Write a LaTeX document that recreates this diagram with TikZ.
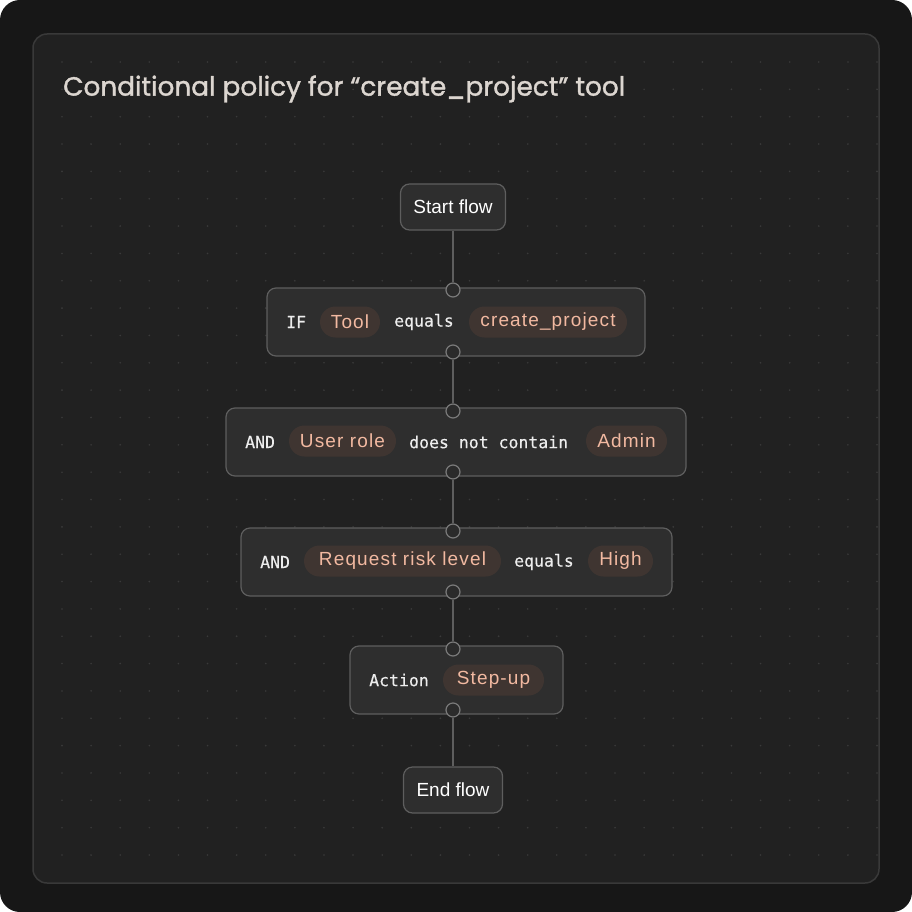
\documentclass[tikz,border=0pt]{standalone}
\usepackage{fontspec}
\setmainfont{Liberation Sans}
\newfontfamily\titlefont{Poppins}[FakeBold=1.4]
\newfontfamily\monofont{DejaVu Sans Mono}[FakeBold=0.3]
\newfontfamily\pillfont{Liberation Sans}[LetterSpace=6]
\definecolor{outerbg}{HTML}{171717}
\definecolor{panelbg}{HTML}{212121}
\definecolor{panelline}{HTML}{393939}
\definecolor{dotc}{HTML}{3A3A3A}
\definecolor{boxbg}{HTML}{2E2E2E}
\definecolor{boxline}{HTML}{5E5E5E}
\definecolor{pillbg}{HTML}{3F3531}
\definecolor{pilltext}{HTML}{F2B9A1}
\definecolor{monotext}{HTML}{EDEDED}
\definecolor{titletext}{HTML}{DCD6D0}
\definecolor{wire}{HTML}{5E5E5E}
\definecolor{portline}{HTML}{7A7A7A}
\definecolor{portbg}{HTML}{2B2B2B}
\tikzset{
  card/.style={draw=boxline, line width=1.2pt, fill=boxbg, rounded corners=9pt, inner sep=0pt},
  endcard/.style={card, text=white, font=\fontsize{19}{22}\selectfont},
  pill/.style={fill=pillbg, rounded corners=15.5pt, minimum height=31pt, inner sep=0pt, text=pilltext, font=\pillfont\fontsize{19}{22}\selectfont},
  mono/.style={anchor=west, inner sep=0pt, text=monotext, font=\monofont\fontsize{16.5}{20}\selectfont},
  port/.style={circle, draw=portline, line width=1.2pt, fill=portbg, minimum size=14pt, inner sep=0pt},
  wireline/.style={draw=wire, line width=1.5pt}
}
\begin{document}
\begin{tikzpicture}[x=1pt,y=-1pt]
\useasboundingbox (0,0) rectangle (912,912);
\fill[white] (0,0) rectangle (912,912);
\fill[outerbg, rounded corners=20pt] (0,0) rectangle (912,912);
\draw[panelline, fill=panelbg, line width=1.5pt, rounded corners=14pt] (33,34) rectangle (879,883);
\foreach \i in {0,...,28}{
  \foreach \j in {0,...,29}{
    \fill[dotc] (62+29.107*\i, 62+27.345*\j) circle (0.9pt);
  }
}
\node[anchor=west, inner sep=0pt, text=titletext] (title) at (63,89) {\resizebox{562pt}{!}{\titlefont\fontsize{22}{26}\selectfont Conditional policy for “create\_project” tool}};

% boxes
\node[endcard, minimum width=105pt, minimum height=46pt] (start) at (453,207) {Start flow};
\node[card, minimum width=378pt, minimum height=68pt] (ifbox) at (456,322) {};
\node[card, minimum width=460pt, minimum height=68pt] (and1) at (456,442) {};
\node[card, minimum width=431pt, minimum height=68pt] (and2) at (456.5,562) {};
\node[card, minimum width=213pt, minimum height=68pt] (act) at (456.5,680) {};
\node[endcard, minimum width=99pt, minimum height=46pt] (endf) at (453,790) {End flow};

% ports
\node[port] (p1) at (453,290) {};
\node[port] (p2) at (453,352) {};
\node[port] (p3) at (453,411) {};
\node[port] (p4) at (453,472) {};
\node[port] (p5) at (453,531) {};
\node[port] (p6) at (453,592) {};
\node[port] (p7) at (453,649) {};
\node[port] (p8) at (453,710) {};

% wires
\draw[wireline] (start) -- (p1);
\draw[wireline] (p2) -- (p3);
\draw[wireline] (p4) -- (p5);
\draw[wireline] (p6) -- (p7);
\draw[wireline] (p8) -- (endf);

% IF row
\node[mono] (if) at (286,322) {IF};
\node[pill, minimum width=60pt] (tool) at (350,322) {Tool};
\node[mono] (eq1) at (394,322) {equals};
\node[pill, minimum width=158pt] (cp) at (548,322) {create\_project};

% AND 1
\node[mono] (a1) at (245,442) {AND};
\node[pill, minimum width=107pt] (ur) at (342.5,441) {User role};
\node[mono] (dnc) at (409,442) {does not contain};
\node[pill, minimum width=81pt] (adm) at (626.5,441) {Admin};

% AND 2
\node[mono] (a2) at (260,562) {AND};
\node[pill, minimum width=197pt] (rrl) at (402.5,561) {Request risk level};
\node[mono] (eq2) at (514,562) {equals};
\node[pill, minimum width=65pt] (high) at (620.5,561) {High};

% Action
\node[mono] (actl) at (369,680) {Action};
\node[pill, minimum width=101pt] (su) at (493.5,680) {Step-up};
\end{tikzpicture}
\end{document}
